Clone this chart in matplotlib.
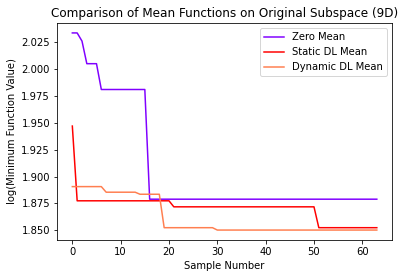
import numpy as np
import matplotlib
matplotlib.use('Agg')
import matplotlib.pyplot as plt

samples = np.arange(64)

# values, one per sample
zero_mean = [2.0336, 2.0336, 2.026, 2.005, 2.005, 2.005] + [1.981] * 10 + [1.879] * 48
static_dl_mean = [1.947] + [1.8775] * 20 + [1.8719] * 30 + [1.8525] * 13
dynamic_dl_mean = [1.8907] * 7 + [1.8855] * 7 + [1.8836] * 5 + [1.8525] * 11 + [1.8503] * 34

fig = plt.figure(figsize=(405 / 72, 278 / 72), dpi=72)
ax = fig.add_axes([0.141, 0.137, 0.827, 0.780])

ax.plot(samples, zero_mean, color='#8000ff', label='Zero Mean')
ax.plot(samples, static_dl_mean, color='#ff0000', label='Static DL Mean')
ax.plot(samples, dynamic_dl_mean, color='#ff7f50', label='Dynamic DL Mean')

ax.set(xlabel='Sample Number', ylabel='log(Minimum Function Value)',
       title='Comparison of Mean Functions on Original Subspace (9D)')
ax.legend(loc='upper right')

fig.savefig('out.png', dpi=72)
